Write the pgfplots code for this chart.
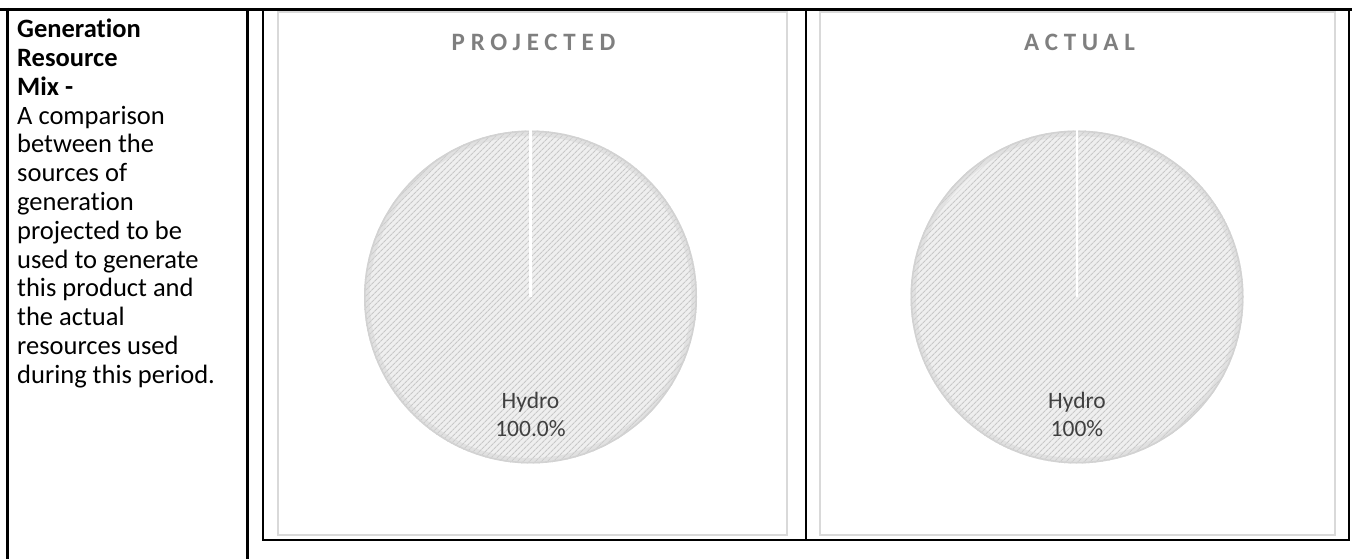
\documentclass[border=0pt]{standalone}
\usepackage{pgfplots}
\pgfplotsset{compat=1.18}
\usepackage{pgfplotstable}
\usepackage{fontspec}
\setmainfont{Carlito}[Ligatures=NoCommon]
\newfontfamily\titlefont[LetterSpace=23]{Carlito}
\usetikzlibrary{patterns.meta}

\definecolor{boxgray}{HTML}{D9D9D9}
\definecolor{titlegray}{HTML}{7F7F7F}
\definecolor{labelgray}{HTML}{404040}
\definecolor{piefill}{HTML}{EFEFEF}
\definecolor{piehatch}{HTML}{C8C8C8}
\definecolor{pierim}{HTML}{D2D2D2}

% share of each source, in percent
\pgfplotstableread{
source share
Hydro  100
}\projected
\pgfplotstableread{
source share
Hydro  100
}\actual

\pgfplotsset{
    pieaxis/.style={
        anchor=origin, x=166.5pt, y=166.5pt,
        xmin=-1, xmax=1, ymin=-1, ymax=1,
        hide axis, clip=false},
}

% #1 = share, #2 = precision of the label
\newcommand\pieslice[2]{%
    \fill[piefill] (axis cs:0,0) -- (axis cs:0,1)
        arc[start angle=90, delta angle=-3.6*#1, radius=166.5pt] -- cycle;
    \fill[pattern={Lines[angle=45,distance=4pt,line width=1.1pt]}, pattern color=piehatch]
        (axis cs:0,0) -- (axis cs:0,1)
        arc[start angle=90, delta angle=-3.6*#1, radius=166.5pt] -- cycle;
    \draw[pierim, line width=5pt, opacity=.45] (axis cs:0,0) circle[radius=163.5pt];
    \draw[pierim, line width=1.6pt] (axis cs:0,0) circle[radius=165.7pt];
    \draw[white, line width=2.5pt] (axis cs:0,0) -- (axis cs:0,1.01);
    \node[labelgray, anchor=base, font=\fontsize{23.5}{29}\selectfont]
        at (axis cs:0,-0.667) {Hydro};
    \node[labelgray, anchor=base, font=\fontsize{23.5}{29}\selectfont]
        at (axis cs:0,-0.84)
        {\pgfmathprintnumber[fixed, fixed zerofill, precision=#2,
            assume math mode=true]{#1}\%};
}

\begin{document}
\pgfplotstablegetelem{0}{share}\of\projected \let\shareP\pgfplotsretval
\pgfplotstablegetelem{0}{share}\of\actual \let\shareA\pgfplotsretval
\begin{tikzpicture}[x=1pt, y=1pt]
    \useasboundingbox (0,0) rectangle (1352,559);

    % chart frames
    \draw[boxgray, line width=1.5pt] (278,24) rectangle (787,547);
    \draw[boxgray, line width=1.5pt] (820,24) rectangle (1335,547);

    % table rules
    \draw[line width=3pt] (0,549.5) -- (1352,549.5);
    \draw[line width=3pt] (7,551) -- (7,0);
    \draw[line width=2.5pt] (247.5,549.5) -- (247.5,0);
    \draw[line width=2.5pt] (263,549.5) -- (263,19) -- (1349,19) -- (1349,549.5);
    \draw[line width=2.5pt] (806,549.5) -- (806,19);

    % left column
    \node[anchor=north west, align=left, inner sep=0pt,
          font=\fontsize{26.5}{28.8}\selectfont] at (17,540)
        {\textbf{Generation}\\ \textbf{Resource}\\ \textbf{Mix -}\\
         A comparison\\ between the\\ sources of\\ generation\\
         projected to be\\ used to generate\\ this product and\\
         the actual\\ resources used\\ during this period.};

    % chart titles
    \node[titlegray, anchor=base, inner sep=0pt,
          font=\titlefont\bfseries\fontsize{25}{30}\selectfont] at (533.5,508) {PROJECTED};
    \node[titlegray, anchor=base, inner sep=0pt,
          font=\titlefont\bfseries\fontsize{25}{30}\selectfont] at (1079.5,508) {ACTUAL};

    \begin{axis}[pieaxis, at={(530.5pt,262pt)}]
        \pieslice{\shareP}{1}
    \end{axis}
    \begin{axis}[pieaxis, at={(1077pt,262pt)}]
        \pieslice{\shareA}{0}
    \end{axis}
\end{tikzpicture}
\end{document}
